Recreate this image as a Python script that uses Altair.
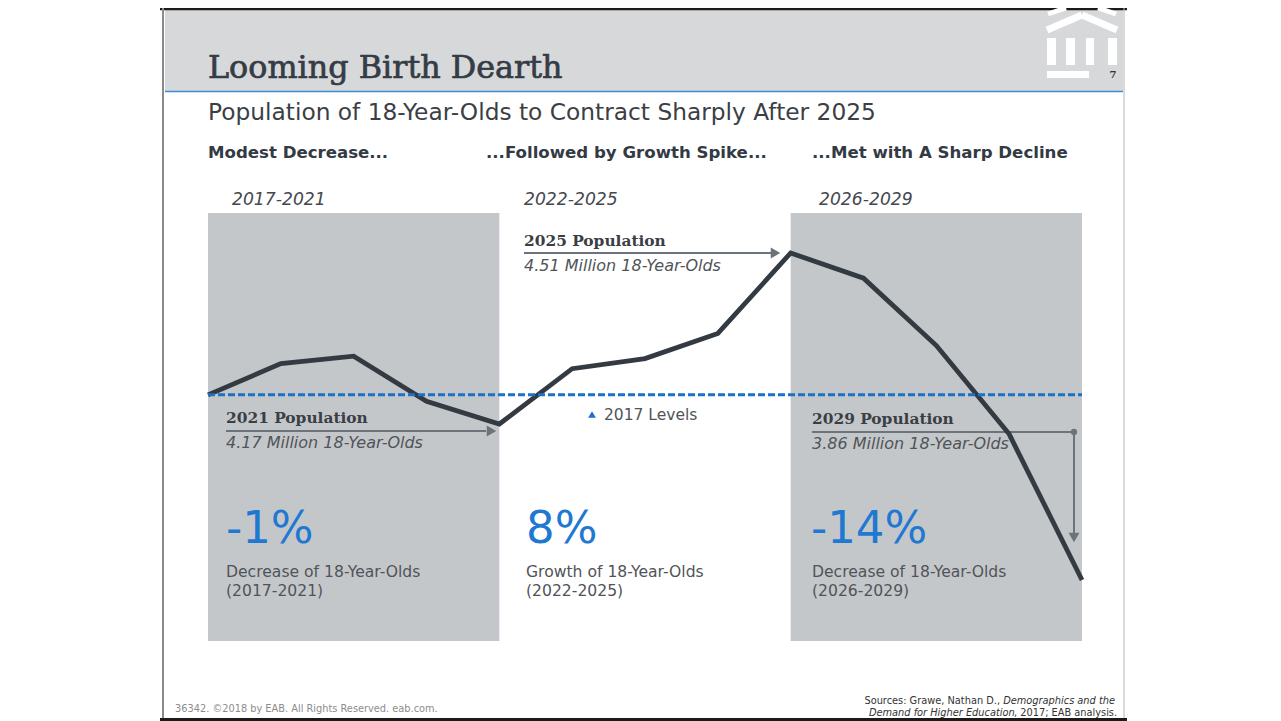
import altair as alt
import pandas as pd

# ---------------- data ----------------
years = list(range(2017, 2030))
population = [4.228, 4.29, 4.305, 4.215, 4.17, 4.28, 4.30, 4.35, 4.51, 4.46, 4.326, 4.15, 3.86]

period_names = ["2017-2021", "2022-2025", "2026-2029"]
period_headings = ["Modest Decrease...", "...Followed by Growth Spike...", "...Met with A Sharp Decline"]
period_changes = ["-1%", "8%", "-14%"]
period_desc = ["Decrease of 18-Year-Olds", "Growth of 18-Year-Olds", "Decrease of 18-Year-Olds"]

shade_start = [2017, 2025]
shade_end = [2021, 2029]

callout_years = [2021, 2025, 2029]
callout_values = [4.17, 4.51, 3.86]

title_text = "Looming Birth Dearth"
subtitle_text = "Population of 18-Year-Olds to Contract Sharply After 2025"
baseline_label = "2017 Levels"
footer_left = "36342. \u00a92018 by EAB. All Rights Reserved. eab.com."

# ---------------- layout ----------------
X0, Y0 = 208, 213          # plot origin on the page
W, H = 874, 428            # plot area
xscale = alt.Scale(domain=[2017, 2029], nice=False, zero=False)
yscale = alt.Scale(domain=[3.7387, 4.5895], nice=False, zero=False)

DARK = "#343a42"
BLUE = "#1a73c9"
GREY_BOX = "#c4c7ca"
ARROW = "#6d737a"
TXT = "#3a3f46"
TXT2 = "#505459"

one = pd.DataFrame({"k": [0]})


def label(s, x, y, size, color=TXT, weight="normal", style="normal",
          font="DejaVu Sans", align="left", baseline="alphabetic", stroke=None):
    kw = {}
    if stroke:
        kw = {"stroke": color, "strokeWidth": stroke}
    return alt.Chart(pd.DataFrame({"t": [s]})).mark_text(
        align=align, baseline=baseline, font=font, fontSize=size,
        fontWeight=weight, fontStyle=style, color=color, **kw
    ).encode(text="t:N", x=alt.value(x - X0), y=alt.value(y - Y0))


def seg(x1, y1, x2, y2, color, width, cap="butt"):
    return alt.Chart(one).mark_rule(color=color, strokeWidth=width, strokeCap=cap).encode(
        x=alt.value(x1 - X0), y=alt.value(y1 - Y0), x2=alt.value(x2 - X0), y2=alt.value(y2 - Y0))


def box(x1, y1, x2, y2, color):
    return alt.Chart(one).mark_rect(color=color).encode(
        x=alt.value(x1 - X0), y=alt.value(y1 - Y0), x2=alt.value(x2 - X0), y2=alt.value(y2 - Y0))


def symbol(x, y, shape, size, color):
    return alt.Chart(one).mark_point(shape=shape, size=size, filled=True, color=color, opacity=1).encode(
        x=alt.value(x - X0), y=alt.value(y - Y0))


layers = []

# ---- slide frame / header ----
layers.append(box(165, 8, 1123, 91, "#d7d8da"))
layers.append(seg(165, 91.5, 1123, 91.5, "#3d8fd4", 1.5))
layers.append(seg(160, 9, 1127, 9, "#1a1a1a", 2.5))
layers.append(seg(163, 8, 163, 721, "#8a8a8a", 2))
layers.append(seg(1124, 8, 1124, 721, "#b5b5b5", 1))
layers.append(seg(160, 719.5, 1127, 719.5, "#1a1a1a", 3))

# logo (white building)
layers.append(seg(1047, 30, 1082, 15, "white", 7))
layers.append(seg(1082, 15, 1117, 30, "white", 7))
layers.append(seg(1048, 14, 1066, 8, "white", 5))
layers.append(seg(1098, 8, 1116, 14, "white", 5))
for cx in [(1047, 1056), (1066, 1075), (1086, 1094), (1108, 1117)]:
    layers.append(box(cx[0], 38, cx[1], 65, "white"))
layers.append(box(1047, 71, 1089, 78, "white"))
layers.append(label("7", 1113, 78, 10, "#333333", weight="bold", font="DejaVu Serif", align="center"))

layers.append(label(title_text, 208, 78, 31.8, "#353c46", font="DejaVu Serif", stroke=0.7))
layers.append(label(subtitle_text, 208, 120, 23.3, "#3b3f45"))

# ---- shaded periods ----
shade_df = pd.DataFrame({"start": shade_start, "end": shade_end})
layers.append(alt.Chart(shade_df).mark_rect(color=GREY_BOX).encode(
    x=alt.X("start:Q", scale=xscale, axis=None), x2="end:Q",
    y=alt.value(0), y2=alt.value(H)))

# ---- headings per period ----
head_x = [208, 486, 812]
name_x = [232, 524, 819]
pct_x = [226, 526, 811]
desc_x = [226, 526, 812]
for i in range(3):
    layers.append(label(period_headings[i], head_x[i], 158, 16.6, "#333a44", weight="bold"))
    layers.append(label(period_names[i], name_x[i], 205, 17.2, "#44484e", style="italic"))
    layers.append(label(period_changes[i], pct_x[i], 543, 45, "#1f78d1"))
    layers.append(label(period_desc[i], desc_x[i], 577, 15.6, TXT2))
    layers.append(label("(" + period_names[i] + ")", desc_x[i], 596, 15.6, TXT2))

# ---- callout arrows (under the line) ----
layers.append(seg(226, 431, 486, 431, ARROW, 2))
layers.append(symbol(491.5, 431, "triangle-right", 120, ARROW))
layers.append(seg(524, 253, 771, 253, ARROW, 2))
layers.append(symbol(775.5, 253, "triangle-right", 120, ARROW))
layers.append(seg(812, 432, 1074, 432, ARROW, 2))
layers.append(symbol(1074, 432, "circle", 40, ARROW))
layers.append(seg(1074, 432, 1074, 533, ARROW, 2))
layers.append(symbol(1074, 537.5, "triangle-down", 120, ARROW))

# ---- population line ----
line_df = pd.DataFrame({"year": years, "pop": population})
layers.append(alt.Chart(line_df).mark_line(color=DARK, strokeWidth=4.8).encode(
    x=alt.X("year:Q", scale=xscale, axis=None),
    y=alt.Y("pop:Q", scale=yscale, axis=None)))

# ---- 2017 level dashed line ----
base_df = pd.DataFrame({"v": [population[0]]})
layers.append(alt.Chart(base_df).mark_rule(color=BLUE, strokeWidth=3, strokeDash=[7, 3]).encode(
    y=alt.Y("v:Q", scale=yscale, axis=None), x=alt.value(0), x2=alt.value(W)))
layers.append(symbol(592, 414.5, "triangle-up", 60, BLUE))
layers.append(label(baseline_label, 604, 420, 15.5, TXT2))

# ---- callout texts ----
call_pos = [(226, 423), (524, 246), (812, 424)]
for i in range(3):
    x, y = call_pos[i]
    layers.append(label(f"{callout_years[i]} Population", x, y, 15.4, "#3a3f46",
                        weight="bold", font="DejaVu Serif"))
    layers.append(label(f"{callout_values[i]:.2f} Million 18-Year-Olds", x, y + 25, 16,
                        TXT2, style="italic"))

# ---- footer ----
layers.append(label(footer_left, 175, 712, 9.8, "#8c8c8c"))
layers.append(label("Sources: Grawe, Nathan D.,", 1000, 704, 9.8, "#333333", align="right"))
layers.append(label("Demographics and the", 1115, 704, 9.8, "#333333", style="italic", align="right"))
layers.append(label("Demand for Higher Education", 869, 716, 9.8, "#333333", style="italic"))
layers.append(label(", 2017; EAB analysis.", 1014, 716, 9.8, "#333333"))

chart = alt.layer(*layers).properties(
    width=W, height=H,
    padding={"left": X0 - 8, "top": Y0 - 8, "right": 1273 - (X0 + W), "bottom": 722 - (Y0 + H)},
    autosize=alt.AutoSizeParams(type="none"),
    background="white",
).configure_view(stroke=None)

chart.save("out.html", embed_options={"renderer": "svg", "actions": False})
